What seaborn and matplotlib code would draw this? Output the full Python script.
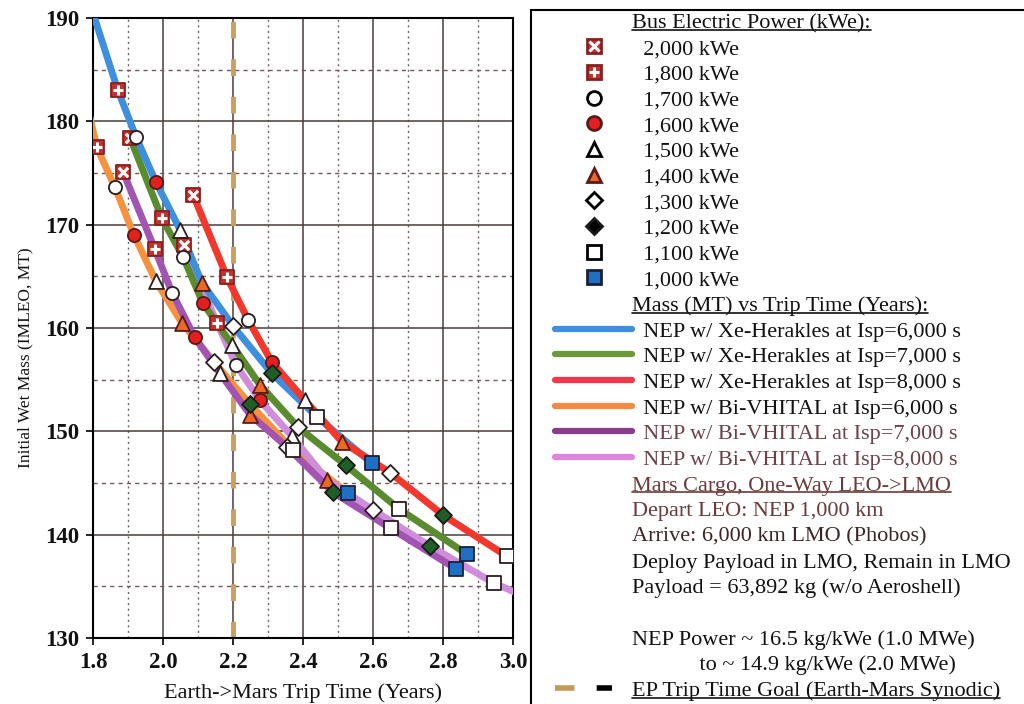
import numpy as np
import pandas as pd
import matplotlib
matplotlib.use("Agg")
import matplotlib.pyplot as plt
import seaborn as sns
from matplotlib.lines import Line2D
from matplotlib.patches import Rectangle
from matplotlib.legend_handler import HandlerTuple
from matplotlib.ticker import MultipleLocator

# ---------------------------------------------------------------
# data: trip time (years) and initial wet mass (MT) per bus power
# ---------------------------------------------------------------
POWER_KWE = [2000, 1800, 1700, 1600, 1500, 1400, 1300, 1200, 1100, 1000]

XE6_T = [1.795, 1.871, 1.923, 1.980, 2.049, 2.111, 2.200, 2.311, 2.440, 2.597]
XE6_M = [191.0, 183.0, 178.5, 174.1, 169.5, 164.4, 160.2, 155.6, 151.4, 146.9]
XE7_T = [1.906, 1.997, 2.057, 2.114, 2.197, 2.277, 2.386, 2.523, 2.674, 2.869]
XE7_M = [178.4, 170.6, 166.9, 162.4, 158.4, 154.5, 150.4, 146.7, 142.5, 138.1]
XE8_T = [2.086, 2.183, 2.243, 2.311, 2.406, 2.511, 2.649, 2.800, 2.983, 3.180]
XE8_M = [172.9, 164.9, 160.8, 156.7, 153.0, 149.0, 146.0, 141.9, 137.9, 134.3]
BI6_T = [1.777, 1.811, 1.863, 1.917, 1.980, 2.054, 2.146, 2.249, 2.371, 2.529]
BI6_M = [182.5, 177.5, 173.6, 169.0, 164.5, 160.5, 156.7, 152.6, 148.2, 144.0]
BI7_T = [1.886, 1.977, 2.026, 2.091, 2.163, 2.249, 2.354, 2.486, 2.651, 2.837]
BI7_M = [175.1, 167.6, 163.4, 159.1, 155.6, 151.6, 148.5, 144.1, 140.6, 136.7]
BI8_T = [2.060, 2.154, 2.209, 2.277, 2.369, 2.469, 2.600, 2.763, 2.946, 3.140]
BI8_M = [168.0, 160.5, 156.4, 153.0, 149.5, 145.3, 142.4, 138.9, 135.3, 132.5]

GOAL_T = 2.2  # EP trip time goal (Earth-Mars synodic)

X_TICKS = [1.8, 2.0, 2.2, 2.4, 2.6, 2.8, 3.0]
X_TICK_LABELS = ["1.8", "2.0", "2.2", "2.4", "2.6", "2.8", "3.0"]
Y_TICKS = [130, 140, 150, 160, 170, 180, 190]
Y_TICK_LABELS = ["130", "140", "150", "160", "170", "180", "190"]

LINE_LABELS = {
    "xe6": "NEP w/ Xe-Herakles at Isp=6,000 s",
    "xe7": "NEP w/ Xe-Herakles at Isp=7,000 s",
    "xe8": "NEP w/ Xe-Herakles at Isp=8,000 s",
    "bi6": "NEP w/ Bi-VHITAL at Isp=6,000 s",
    "bi7": "NEP w/ Bi-VHITAL at Isp=7,000 s",
    "bi8": "NEP w/ Bi-VHITAL at Isp=8,000 s",
}
LINE_COLORS = {
    "xe6": "#3f8fdf", "xe7": "#5a8c2f", "xe8": "#f2372c",
    "bi6": "#f6923f", "bi7": "#a254b2", "bi8": "#cf8ddb",
}
LEGEND_LINE_COLORS = {
    "xe6": "#3f8fdf", "xe7": "#6a9a3a", "xe8": "#f2374a",
    "bi6": "#f28a45", "bi7": "#8c3c8c", "bi8": "#de84dc",
}
DRAW_ORDER = ["bi6", "bi8", "bi7", "xe7", "xe6", "xe8"]

MARKER_STYLE = {
    2000: dict(marker="s", face="#c0322e", edge="#8a1f1f", s=115, over="x"),
    1800: dict(marker="s", face="#c0322e", edge="#8a1f1f", s=115, over="+"),
    1700: dict(marker="o", face="white", edge="#2b1d1d", s=90, over=None),
    1600: dict(marker="o", face="#e3201f", edge="#5a1a1a", s=90, over=None),
    1500: dict(marker="^", face="white", edge="#2b1d1d", s=115, over=None),
    1400: dict(marker="^", face="#ea6a24", edge="#5a1a1a", s=115, over=None),
    1300: dict(marker="D", face="white", edge="#2b1d1d", s=75, over=None),
    1200: dict(marker="D", face="#1f5e24", edge="#1a1a1a", s=75, over=None),
    1100: dict(marker="s", face="white", edge="#2b1d1d", s=115, over=None),
    1000: dict(marker="s", face="#1f6fc4", edge="#1a2038", s=115, over=None),
}

# long table of all points
rows = []
for name, tt, mm in [("xe6", XE6_T, XE6_M), ("xe7", XE7_T, XE7_M),
                     ("xe8", XE8_T, XE8_M), ("bi6", BI6_T, BI6_M),
                     ("bi7", BI7_T, BI7_M), ("bi8", BI8_T, BI8_M)]:
    for p, t, m in zip(POWER_KWE, tt, mm):
        rows.append((name, p, t, m))
df = pd.DataFrame(rows, columns=["curve", "kwe", "t", "m"])

# ---------------------------------------------------------------
# style
# ---------------------------------------------------------------
sns.set_theme(style="white")
plt.rcParams["font.family"] = ["Liberation Serif", "DejaVu Serif"]
plt.rcParams["lines.scale_dashes"] = False

fig = plt.figure(figsize=(10.24, 7.04), dpi=100, facecolor="white")
ax = fig.add_axes([93 / 1024, 66 / 704, 420 / 1024, 620 / 704])

# curves
for i, name in enumerate(DRAW_ORDER):
    sub = df[df.curve == name]
    sns.lineplot(data=sub, x="t", y="m", sort=False, estimator=None,
                 color=LINE_COLORS[name], linewidth=5, ax=ax,
                 zorder=3 + 0.1 * i, legend=False)

# goal line
ax.axvline(GOAL_T, color="#c9a05e", lw=3.5, ls=(0, (12, 15)), zorder=2)

# markers (only points inside the frame)
vis = df[(df.t >= 1.8) & (df.t <= 3.0) & (df.m >= 130) & (df.m <= 190)]
for k, p in enumerate(POWER_KWE):
    st = MARKER_STYLE[p]
    sub = vis[vis.kwe == p]
    sns.scatterplot(data=sub, x="t", y="m", marker=st["marker"], s=st["s"],
                    color=st["face"], edgecolor=st["edge"], linewidth=1.3,
                    ax=ax, zorder=6 + 0.1 * k, legend=False)
    if st["over"]:
        ax.scatter(sub.t, sub.m, marker=st["over"], s=45, c="white",
                   linewidths=2.2, zorder=6.05 + 0.1 * k)

# axes
ax.set_xlim(1.8, 3.0)
ax.set_ylim(130, 190)
ax.set_xticks(X_TICKS, X_TICK_LABELS, fontsize=16.5, fontweight="bold")
ax.set_yticks(Y_TICKS, Y_TICK_LABELS, fontsize=16.5, fontweight="bold")
ax.xaxis.set_minor_locator(MultipleLocator(0.1))
ax.yaxis.set_minor_locator(MultipleLocator(5))
ax.set_axisbelow(True)
ax.grid(True, which="major", color="#4a3b3b", lw=1.1, ls="-")
ax.xaxis.grid(True, which="minor", color="#6e6464", lw=1.0, ls=(0, (1.5, 2.5)))
ax.yaxis.grid(True, which="minor", color="#6e5a5a", lw=1.0, ls=(0, (3, 3)))
ax.tick_params(which="major", bottom=True, left=True, direction="out",
               length=5, width=1.2, color="black", pad=5, labelcolor="#111111")
ax.tick_params(which="minor", length=0)
for s in ax.spines.values():
    s.set_color("black")
    s.set_linewidth(1.5)

ax.set_xlabel("Earth->Mars Trip Time (Years)", fontsize=16, color="#111111")
ax.xaxis.set_label_coords(0.5, -0.073)
ax.set_ylabel("Initial Wet Mass (IMLEO, MT)", fontsize=12.5, color="#111111")
ax.yaxis.set_label_coords(-0.143, 0.452)

# ---------------------------------------------------------------
# legend panel
# ---------------------------------------------------------------
def blank():
    return Line2D([], [], ls="none")


handles = [blank()]
labels = ["Bus Electric Power (kWe):"]
for p in POWER_KWE:
    st = MARKER_STYLE[p]
    face = "black" if p == 1200 else st["face"]
    ms = 10 if st["marker"] != "D" else 8.5
    h = Line2D([], [], ls="none", marker=st["marker"], ms=ms, mfc=face,
               mec=st["edge"] if st["face"] != "white" else "black", mew=2)
    if st["over"]:
        h = (h, Line2D([], [], ls="none", marker=st["over"], ms=7,
                       mec="white", mew=2.2))
    handles.append(h)
    labels.append(f"  {p:,} kWe")

handles.append(blank())
labels.append("Mass (MT) vs Trip Time (Years):")
for name in ["xe6", "xe7", "xe8", "bi6", "bi7", "bi8"]:
    handles.append(Line2D([], [], color=LEGEND_LINE_COLORS[name], lw=4.5))
    labels.append("  " + LINE_LABELS[name])

notes = ["Mars Cargo, One-Way LEO->LMO",
         "Depart LEO: NEP 1,000 km",
         "Arrive: 6,000 km LMO (Phobos)",
         "Deploy Payload in LMO, Remain in LMO",
         "Payload = 63,892 kg (w/o Aeroshell)",
         " ",
         "NEP Power ~ 16.5 kg/kWe (1.0 MWe)",
         "            to ~ 14.9 kg/kWe (2.0 MWe)"]
for n in notes:
    handles.append(blank())
    labels.append(n)

goal_handle = (Line2D([], [], color="#c49a5c", lw=4, ls=(0, (14, 60))),
               Line2D([], [], color="black", lw=4, ls=(0, (0.01, 30, 11, 60))))
handles.append(goal_handle)
labels.append("EP Trip Time Goal (Earth-Mars Synodic)")

leg = fig.legend(handles, labels, loc="upper left",
                 bbox_to_anchor=(555 / 1024, 1 - 13 / 704),
                 bbox_transform=fig.transFigure, frameon=False, fontsize=16,
                 handlelength=3.47, handletextpad=0.0, labelspacing=0.23,
                 borderpad=0, borderaxespad=0, numpoints=1,
                 handler_map={tuple: HandlerTuple(ndivide=1)})

texts = leg.get_texts()
for t in texts:
    t.set_color("#111111")
for i in (16, 17):
    texts[i].set_color("#6e4048")
for i in (18, 19):
    texts[i].set_color("#6b3a3a")
texts[20].set_color("#3a2626")

fig.add_artist(Rectangle((531 / 1024, -0.05), 0.6, 1 - 10 / 704 + 0.05,
                         transform=fig.transFigure, fill=False,
                         ec="black", lw=1.5))

# underline the headings
fig.canvas.draw()
renderer = fig.canvas.get_renderer()
inv = fig.transFigure.inverted()
for i in (0, 11, 18, 26):
    t = texts[i]
    bb = t.get_window_extent(renderer)
    yy = bb.y0 + 0.17 * bb.height
    (x0, y0), (x1, _) = inv.transform([(bb.x0, yy), (bb.x1, yy)])
    fig.add_artist(Line2D([x0, x1], [y0, y0], transform=fig.transFigure,
                          color=t.get_color(), lw=1.2))

fig.savefig("out.png", dpi=100, facecolor="white")
plt.close(fig)
